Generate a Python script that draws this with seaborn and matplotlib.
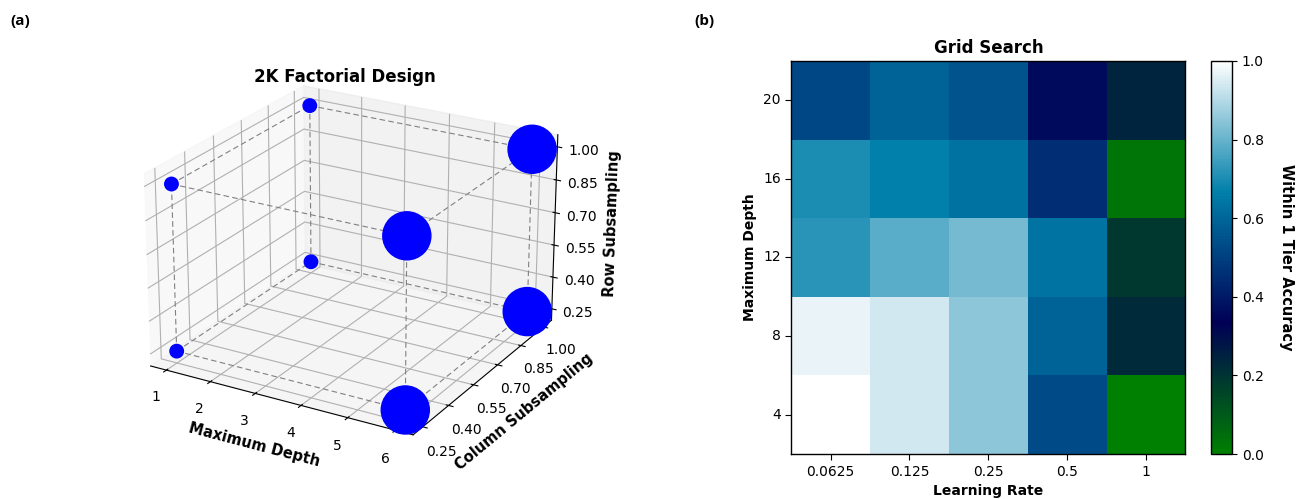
import itertools
import matplotlib
matplotlib.use('Agg')
import matplotlib.pyplot as plt
import pandas as pd
import numpy as np
import seaborn as sns

# 2K factorial design: corner levels of each factor
depth_levels = [1, 6]
col_levels = [0.25, 1.00]
row_levels = [0.25, 1.00]
axis_ticks = [0.25, 0.40, 0.55, 0.70, 0.85, 1.00]
depth_ticks = [1, 2, 3, 4, 5, 6]

# Grid search results (rows = max depth, top to bottom)
grid_depths = [20, 16, 12, 8, 4]
learning_rates = ['0.0625', '0.125', '0.25', '0.5', '1']
acc_d20 = [0.52, 0.59, 0.55, 0.36, 0.24]
acc_d16 = [0.70, 0.665, 0.63, 0.45, 0.03]
acc_d12 = [0.72, 0.785, 0.82, 0.635, 0.19]
acc_d8 = [0.97, 0.94, 0.85, 0.59, 0.23]
acc_d4 = [1.00, 0.94, 0.85, 0.53, 0.00]

grid = pd.DataFrame([acc_d20, acc_d16, acc_d12, acc_d8, acc_d4],
                    index=grid_depths, columns=learning_rates)

fig = plt.figure(figsize=(12.97, 4.99), dpi=100)

# (a) 3D factorial design
ax3 = fig.add_axes([0.019, 0.031, 0.50, 0.912], projection='3d')
ax3.view_init(elev=23, azim=-60)
ax3.set_box_aspect((4, 4, 2.75))
corners = list(itertools.product(depth_levels, col_levels, row_levels))
xs = [c[0] for c in corners]
ys = [c[1] for c in corners]
zs = [c[2] for c in corners]
sizes = [94 * x ** 1.42 for x in xs]

# cube edges between corners differing in one factor
for a, b in itertools.combinations(corners, 2):
    if sum(p != q for p, q in zip(a, b)) == 1:
        ax3.plot([a[0], b[0]], [a[1], b[1]], [a[2], b[2]],
                 linestyle=(0, (5, 3)), color='gray', linewidth=0.8)
ax3.scatter(xs, ys, zs, s=sizes, c='blue', depthshade=False, alpha=1)

ax3.set_xticks(depth_ticks)
ax3.set_yticks(axis_ticks)
ax3.set_zticks(axis_ticks)
ax3.tick_params(labelsize=10)
ax3.set_xlabel('Maximum Depth', fontweight='bold', fontsize=10.5)
ax3.set_ylabel('Column Subsampling', fontweight='bold', fontsize=10.5)
ax3.set_zlabel('Row Subsampling', fontweight='bold', fontsize=10.5)
fig.text(0.266, 0.846, '2K Factorial Design', fontweight='bold', fontsize=12,
         ha='center', va='center')

# (b) grid search heatmap
ax = fig.add_axes([0.610, 0.090, 0.304, 0.788])
cax = fig.add_axes([0.934, 0.090, 0.016, 0.788])
sns.heatmap(grid, cmap='ocean', vmin=0, vmax=1, ax=ax, cbar_ax=cax)
for s in ax.spines.values():
    s.set_visible(True)
    s.set_linewidth(1)
ax.set_yticklabels(ax.get_yticklabels(), rotation=0, fontsize=10)
ax.set_xticklabels(ax.get_xticklabels(), rotation=0, fontsize=10)
ax.tick_params(length=4)
ax.set_xlabel('Learning Rate', fontweight='bold', fontsize=10)
ax.set_ylabel('Maximum Depth', fontweight='bold', fontsize=10)
ax.set_title('Grid Search', fontweight='bold', fontsize=12)
cbar = ax.collections[0].colorbar
cbar.outline.set_linewidth(1)
cbar.set_ticks([0.0, 0.2, 0.4, 0.6, 0.8, 1.0])
cbar.ax.tick_params(labelsize=10)
cbar.set_label('Within 1 Tier Accuracy', rotation=270, labelpad=22,
               fontweight='bold', fontsize=10.5)

fig.text(0.008, 0.950, '(a)', fontweight='bold', fontsize=11, family='Open Sans')
fig.text(0.535, 0.950, '(b)', fontweight='bold', fontsize=11, family='Open Sans')

fig.savefig('out.png', dpi=100)
